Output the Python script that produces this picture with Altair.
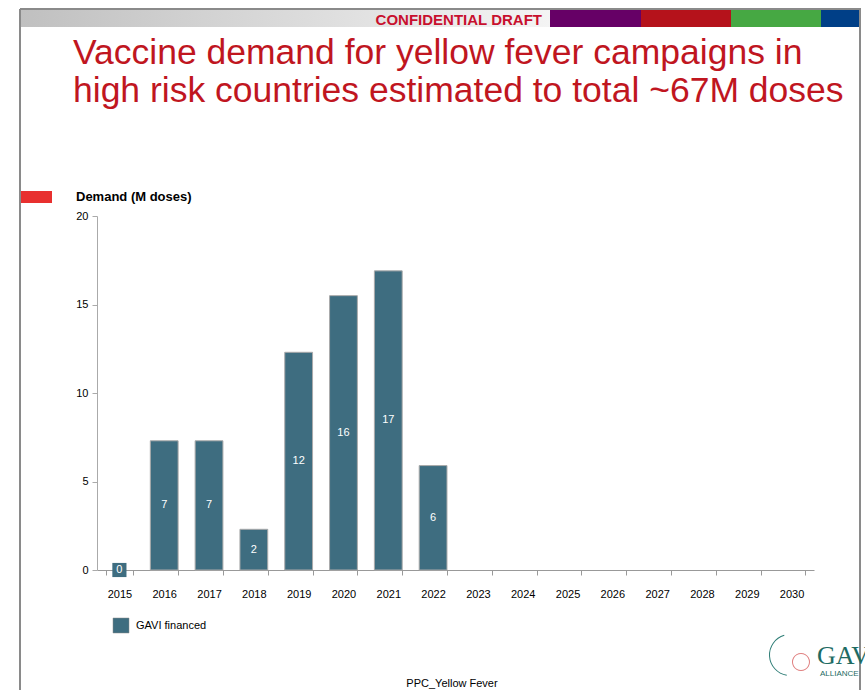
import altair as alt
import pandas as pd

years = [str(y) for y in range(2015, 2031)]
demand = [0.0, 7.3, 7.3, 2.3, 12.3, 15.5, 16.9, 5.9, None, None, None, None, None, None, None, None]
labels = ["0", "7", "7", "2", "12", "16", "17", "6", "", "", "", "", "", "", "", ""]
series = "GAVI financed"

title_lines = ["Vaccine demand for yellow fever campaigns in",
               "high risk countries estimated to total ~67M doses"]
y_title = "Demand (M doses)"
header_text = "CONFIDENTIAL DRAFT"
footer_text = "PPC_Yellow Fever"

df = pd.DataFrame({"year": years, "demand": demand, "label": labels})
df["mid"] = df["demand"] / 2

BAR = "#3E6D80"
FONT = "Liberation Sans"
OX, OY = 97, 216  # plot origin in page pixels
PW = 717


def px(v):
    return alt.value(v - OX)


def py(v):
    return alt.value(v - OY)


xscale = alt.Scale(domain=years, paddingInner=0.38, paddingOuter=0.19)
xaxis = alt.Axis(labelAngle=0, labelFontSize=11, labelFont=FONT, labelColor="#000",
                 labelPadding=13, tickBand="extent", tickSize=5, tickColor="#999",
                 domainColor="#999", grid=False)
yscale = alt.Scale(domain=[0, 20])
yaxis = alt.Axis(values=[0, 5, 10, 15, 20], labelFontSize=11, labelFont=FONT,
                 labelColor="#000", tickSize=5, tickColor="#aaa", domainColor="#aaa",
                 grid=False, labelPadding=4)


def X():
    return alt.X("year:N", sort=years, title=None, scale=xscale, axis=xaxis)


def Y(field):
    return alt.Y(field + ":Q", title=None, scale=yscale, axis=yaxis)


base = alt.Chart(df)

bars = base.transform_filter("datum.demand > 0").mark_bar(
    color=BAR, stroke="#aaaaaa", strokeWidth=1).encode(x=X(), y=Y("demand"))

zero_box = base.transform_filter("datum.demand == 0").mark_square(
    color=BAR, size=200, opacity=1).encode(x=X(), y=Y("demand"))

bar_text = base.transform_filter("datum.demand != null").mark_text(
    color="white", fontSize=11, font=FONT).encode(x=X(), y=Y("mid"), text="label:N")

one = pd.DataFrame({"k": [0]})
deco = alt.Chart(one)

frame_top = deco.mark_rule(color="#8a8a8a", strokeWidth=2).encode(
    x=px(20), x2=px(861), y=py(9))
frame_left = deco.mark_rule(color="#8a8a8a", strokeWidth=2).encode(
    x=px(20), y=py(9), y2=py(700))
frame_right = deco.mark_rule(color="#8a8a8a", strokeWidth=2).encode(
    x=px(860), y=py(9), y2=py(700))

grad = deco.mark_rect(color=alt.Gradient(
    gradient="linear", x1=0, x2=1, y1=0, y2=0,
    stops=[alt.GradientStop(color="#c0c0c0", offset=0),
           alt.GradientStop(color="#f4f4f4", offset=1)])).encode(
    x=px(21), x2=px(550), y=py(10), y2=py(27))

block_colors = ["#660066", "#B5121B", "#46A843", "#003F87"]
block_edges = [550, 641, 731, 821, 859]
blocks = [deco.mark_rect(color=c).encode(x=px(block_edges[i]), x2=px(block_edges[i + 1]),
                                         y=py(10), y2=py(27))
          for i, c in enumerate(block_colors)]

conf = deco.mark_text(text=header_text, font=FONT, fontSize=15, fontWeight="bold",
                      color="#C8102E", align="right", baseline="alphabetic").encode(
    x=px(542), y=py(25))

title1 = deco.mark_text(text=title_lines[0], font=FONT, fontSize=35.5, color="#C0161F",
                        align="left", baseline="alphabetic").encode(x=px(73), y=py(64))
title2 = deco.mark_text(text=title_lines[1], font=FONT, fontSize=35.5, color="#C0161F",
                        align="left", baseline="alphabetic").encode(x=px(73), y=py(102))

red_tab = deco.mark_rect(color="#E8302F").encode(x=px(21), x2=px(52), y=py(191), y2=py(203))
ytitle = deco.mark_text(text=y_title, font=FONT, fontSize=13, fontWeight="bold",
                        color="#000", align="left", baseline="middle").encode(x=px(76), y=py(197))

leg_sq = deco.mark_rect(color=BAR, stroke="#888", strokeWidth=0.5).encode(
    x=px(113), x2=px(129), y=py(618), y2=py(633))
leg_tx = deco.mark_text(text=series, font=FONT, fontSize=11, color="#000",
                        align="left", baseline="middle").encode(x=px(136), y=py(626))

footer = deco.mark_text(text=footer_text, font=FONT, fontSize=11, color="#000",
                        align="center", baseline="middle").encode(x=px(452), y=py(684))

logo1 = deco.mark_text(text="GAVI", font="Liberation Serif", fontSize=26, color="#1E6B63",
                       align="left", baseline="alphabetic").encode(x=px(817), y=py(664))
logo2 = deco.mark_text(text="ALLIANCE", font=FONT, fontSize=8, color="#1E6B63",
                       align="left", baseline="alphabetic").encode(x=px(820), y=py(676))
logo_ring = deco.mark_arc(color="#2E7D76", radius=21, radius2=20, theta=3.3, theta2=6.0).encode(
    x=px(790), y=py(655))
logo_red = deco.mark_arc(color="#E08080", radius=9, radius2=8, theta=0, theta2=6.28).encode(
    x=px(801), y=py(662))

chart = alt.layer(
    grad, *blocks, frame_top, frame_left, frame_right, conf, title1, title2,
    red_tab, ytitle, bars, zero_box, bar_text, leg_sq, leg_tx, footer,
    logo_ring, logo_red, logo1, logo2
).properties(
    width=PW, height=354,
    padding={"left": OX, "top": OY, "right": 865 - OX - PW, "bottom": 690 - OY - 354},
    autosize=alt.AutoSizeParams(type="none"),
    background="white"
).configure_view(stroke=None)

chart.save("out.html", embed_options={"renderer": "svg", "actions": False})
